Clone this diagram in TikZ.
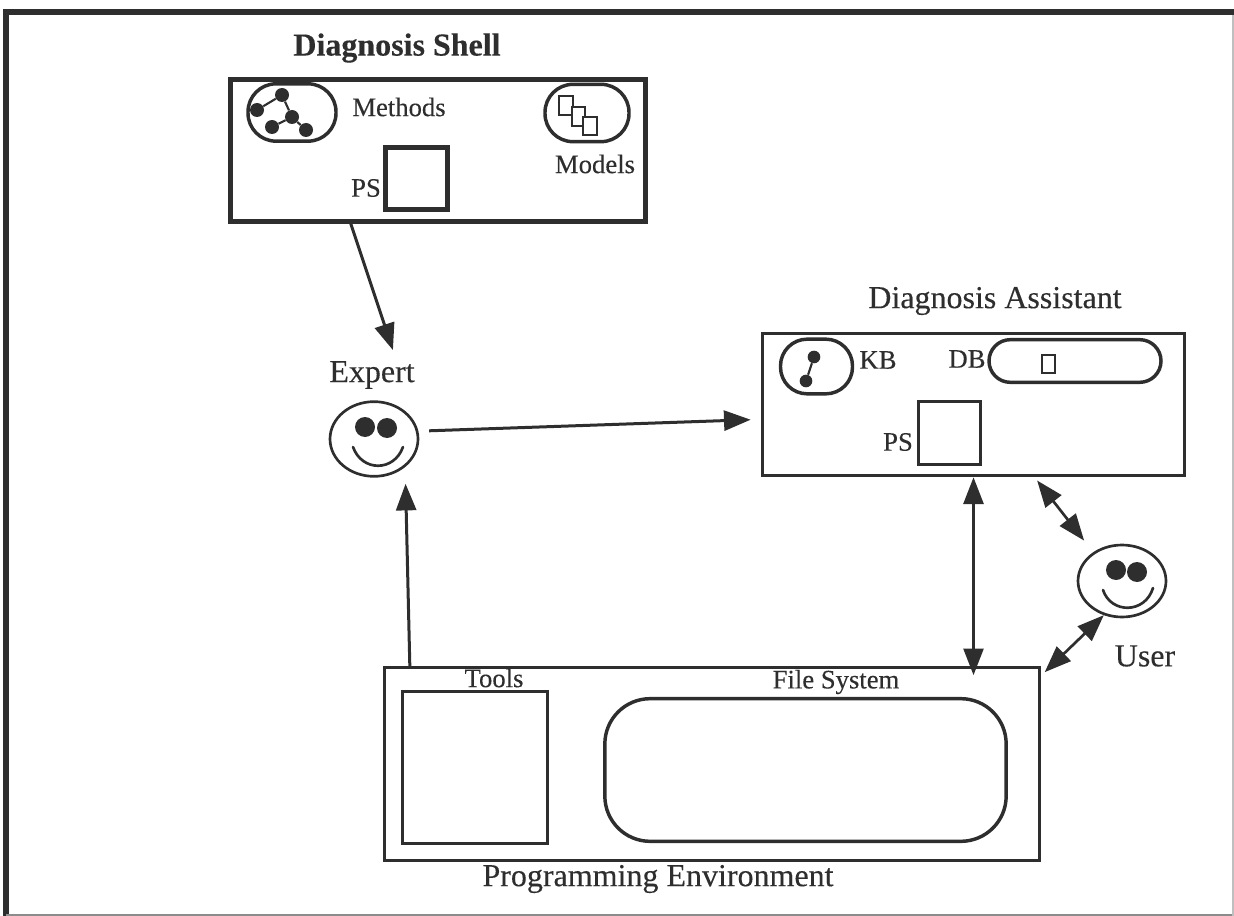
\documentclass[tikz,border=0pt]{standalone}
\usepackage{fontspec}
\setmainfont{Liberation Serif}[FakeBold=0.25]
\usetikzlibrary{arrows.meta, positioning, shapes.geometric}

\begin{document}
\begin{tikzpicture}[
    x=0.75pt, y=-0.75pt,
    ink/.style={draw=black!82, text=black!82},
    thickbox/.style={ink, line width=3.75pt, inner sep=0pt},
    thinbox/.style={ink, line width=2.25pt, inner sep=0pt},
    capsule/.style={ink, line width=2.6pt, inner sep=0pt},
    doc/.style={ink, line width=1.6pt, fill=white, inner sep=0pt, minimum width=10pt, minimum height=14pt},
    dot/.style={circle, fill=black!82, inner sep=0pt, minimum size=10.5pt},
    link/.style={draw=black!82, line width=1.6pt},
    face/.style={ellipse, ink, line width=2pt, inner sep=0pt, minimum width=66pt, minimum height=56pt},
    eye/.style={circle, fill=black!82, inner sep=0pt, minimum size=15pt},
    smile/.style={draw=black!82, line width=2pt, line cap=round},
    title/.style={text=black!82, font=\fontsize{24}{26}\selectfont\bfseries, inner sep=0pt},
    big/.style={text=black!82, font=\fontsize{24}{26}\selectfont, inner sep=0pt},
    small/.style={text=black!82, font=\fontsize{20}{22}\selectfont, inner sep=0pt},
    arr/.style={-{Triangle[length=20pt, width=15pt]}, draw=black!82, line width=2.25pt},
    dbl/.style={{Triangle[length=20pt, width=15pt]}-{Triangle[length=20pt, width=15pt]}, draw=black!82, line width=2pt}
]
    \useasboundingbox (0,0) rectangle (1234,916);
    % page frame
    \draw[black!82, line width=4.5pt] (6,916) -- (6,12.5) -- (1234,12.5);
    \draw[black!45, line width=1pt] (6,915) -- (1234,915);
    \draw[black!25, line width=1pt] (1233,15) -- (1233,916);

    % diagnosis shell
    \node[title] (shellname) at (397,48) {Diagnosis Shell};
    \node[thickbox, minimum width=311pt, minimum height=106pt] (shell) at (438,150.5) {};
    \node[capsule, rounded corners=21pt, minimum width=66pt, minimum height=43pt] (methods) at (292,112.5) {};
    \node[dot] (m1) at (257,110) {};
    \node[dot] (m2) at (282,95) {};
    \node[dot] (m3) at (292,117) {};
    \node[dot] (m4) at (272,127) {};
    \node[dot] (m5) at (306,130) {};
    \draw[link] (m1) -- (m2);
    \draw[link] (m2) -- (m3);
    \draw[link] (m3) -- (m4);
    \draw[link] (m3) -- (m5);
    \node[small] (methodsname) at (399,107) {Methods};
    \node[capsule, rounded corners=21pt, minimum width=63pt, minimum height=43pt] (models) at (587,113) {};
    \node[doc] (d1) at (566,105.5) {};
    \node[doc] (d2) at (578.5,116.5) {};
    \node[doc] (d3) at (590,126) {};
    \node[small] (modelsname) at (595,164) {Models};
    \node[thickbox, minimum size=47pt] (shellps) at (416.5,178.5) {};
    \node[small] (shellpsname) at (366,188) {PS};

    % expert
    \node[big] (expertname) at (372,375) {Expert};
    \node[face] (expert) at (374,439) {};
    \node[eye] (expertl) at (365,427) {};
    \node[eye] (expertr) at (387,428) {};
    \draw[smile] (353,447) .. controls (362,472) and (394,472) .. (403,447);

    % diagnosis assistant
    \node[big] (assistantname) at (995,301) {Diagnosis Assistant};
    \node[thinbox, minimum width=316pt, minimum height=107pt] (assistant) at (973.5,404.5) {};
    \node[capsule, rounded corners=20pt, minimum width=54pt, minimum height=41pt] (kb) at (816.5,366.5) {};
    \node[dot, minimum size=9.5pt] (k1) at (814,357) {};
    \node[dot, minimum size=9.5pt] (k2) at (806,381) {};
    \draw[link] (k1) -- (k2);
    \node[small] (kbname) at (878,360) {KB};
    \node[capsule, rounded corners=16pt, minimum width=129pt, minimum height=32pt] (db) at (1075,361) {};
    \node[doc] (dbdoc) at (1048.5,364) {};
    \node[small] (dbname) at (967,359) {DB};
    \node[thinbox, minimum size=47pt] (assistantps) at (949.5,433) {};
    \node[small] (assistantpsname) at (898,442) {PS};

    % user
    \node[face, minimum height=54pt] (user) at (1122,581) {};
    \node[eye] (userl) at (1116,570) {};
    \node[eye] (userr) at (1137,572) {};
    \draw[smile] (1103,590) .. controls (1111,614) and (1145,614) .. (1153,588);
    \node[big] (username) at (1145,656) {User};

    % programming environment
    \node[thinbox, minimum width=491pt, minimum height=145pt] (env) at (712,764) {};
    \node[small] (toolsname) at (494,678) {Tools};
    \node[thinbox, minimum width=109pt, minimum height=114pt] (tools) at (475,767) {};
    \node[small] (fsname) at (836,682) {File System};
    \node[capsule, rounded corners=34pt, minimum width=301pt, minimum height=107pt] (fs) at (805.5,770) {};
    \node[big] (envname) at (658,879) {Programming Environment};

    % connectors
    \draw[arr, shorten >=8.5pt] (shell.220.1) -- (expertname.30);
    \draw[arr, shorten <=8pt, shorten >=8pt] (expert.10) -- (assistant.184.3);
    \draw[arr, shorten >=12.5pt] (env.162.8) -- (expert.318);
    \draw[dbl, shorten >=-7pt] (assistant.south) -- (assistant.south |- env.north);
    \draw[dbl, shorten <=3pt, shorten >=11pt] (assistant.310.5) -- (user.135);
    \draw[dbl, shorten >=4pt] (user.242) -- (env.15.3);
\end{tikzpicture}
\end{document}
